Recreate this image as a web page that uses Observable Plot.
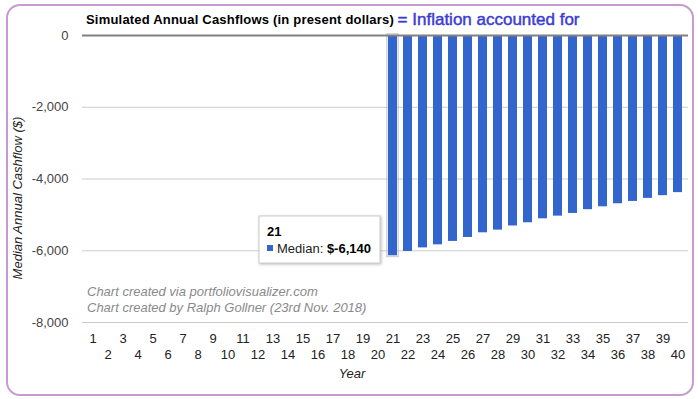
<!DOCTYPE html>
<html>
<head>
<meta charset="utf-8">
<script src="https://cdn.jsdelivr.net/npm/d3@7"></script>
<script src="https://cdn.jsdelivr.net/npm/@observablehq/plot@0.6"></script>
<style>
  html, body { margin: 0; padding: 0; background: #fff; }
  #wrap { position: relative; width: 698px; height: 399px; overflow: hidden; font-family: Arial, "Liberation Sans", sans-serif; }
  #wrap > svg { position: absolute; left: 0; top: 0; }
  .frame { position: absolute; left: 6px; top: 4px; width: 688px; height: 392px; box-sizing: border-box; border: 2px solid #c99ad2; border-radius: 14px; pointer-events: none; }
</style>
</head>
<body>
<div id="wrap"><div class="frame"></div></div>
<script>
// ---- data ----
const years = [1,2,3,4,5,6,7,8,9,10,11,12,13,14,15,16,17,18,19,20,
               21,22,23,24,25,26,27,28,29,30,31,32,33,34,35,36,37,38,39,40];
const medianCashflow = [0,0,0,0,0,0,0,0,0,0,0,0,0,0,0,0,0,0,0,0,
  -6140,-6020,-5920,-5835,-5740,-5630,-5500,-5425,-5310,-5220,
  -5110,-5035,-4960,-4855,-4775,-4690,-4625,-4540,-4465,-4380];
const yTicks = [0,-2000,-4000,-6000,-8000];
const titleText = "Simulated Annual Cashflows (in present dollars)";
const subtitleText = "= Inflation accounted for";
const yTitle = "Median Annual Cashflow ($)";
const xTitle = "Year";
const captionLines = ["Chart created via portfoliovisualizer.com", "Chart created by Ralph Gollner (23rd Nov. 2018)"];
const hoverYear = 21;

// ---- chart ----
const data = years.map((y, i) => ({year: y, value: medianCashflow[i]}));
const fmt = d => d.toLocaleString("en-US");
const font = "Arial, 'Liberation Sans', sans-serif";

const chart = Plot.plot({
  width: 698, height: 399,
  marginTop: 35, marginBottom: 77, marginLeft: 82, marginRight: 10,
  style: {fontFamily: font, fontSize: "13px", background: "transparent", color: "#444"},
  x: {type: "band", domain: years, padding: 0.37, axis: null},
  y: {domain: [-8000, 0], axis: null},
  marks: [
    Plot.gridY(yTicks.filter(v => v !== 0), {stroke: "#cccccc", strokeOpacity: 1}),
    Plot.axisY(yTicks, {tickSize: 0, tickPadding: 14, tickFormat: fmt, fill: "#444", label: null, fontSize: 13}),
    Plot.axisX(years.filter(y => y % 2 === 1), {tickSize: 0, tickPadding: 11, fill: "#222", label: null, fontSize: 13}),
    Plot.axisX(years.filter(y => y % 2 === 0), {tickSize: 0, tickPadding: 27, fill: "#222", label: null, fontSize: 13}),
    Plot.barY(data.filter(d => d.year === hoverYear), {x: "year", y: "value", fill: "none", stroke: "#aaa", strokeOpacity: 0.5, strokeWidth: 1.5, inset: -1.2}),
    Plot.barY(data.filter(d => d.value !== 0), {x: "year", y: "value", fill: "#3366cc"}),
    Plot.ruleY([0], {stroke: "#808080", strokeWidth: 2})
  ]
});
const wrap = document.getElementById("wrap");
wrap.insertBefore(chart, wrap.firstChild);

// ---- overlay texts (titles, caption, tooltip) ----
const ov = d3.select(wrap).append("svg")
  .attr("width", 698).attr("height", 399)
  .style("position", "absolute").style("left", 0).style("top", 0)
  .style("font-family", font);

const t = ov.append("text").attr("x", 86).attr("y", 23.5);
t.append("tspan").text(titleText)
  .attr("font-weight", "bold").attr("font-size", 13).attr("letter-spacing", 0.2).attr("fill", "#000");
t.append("tspan").text(" ").attr("font-size", 13);
t.append("tspan").text(subtitleText)
  .attr("font-size", 17).attr("fill", "#3c3cd2").attr("stroke", "#3c3cd2").attr("stroke-width", 0.45)
  .attr("y", 25);

ov.append("text").text(yTitle)
  .attr("transform", "translate(22,198) rotate(-90)")
  .attr("text-anchor", "middle").attr("font-style", "italic").attr("font-size", 13).attr("fill", "#222");

ov.append("text").text(xTitle)
  .attr("x", 352).attr("y", 378)
  .attr("text-anchor", "middle").attr("font-style", "italic").attr("font-size", 13).attr("fill", "#222");

captionLines.forEach((line, i) => {
  ov.append("text").text(line)
    .attr("x", 87).attr("y", 296 + i * 16)
    .attr("font-style", "italic").attr("font-size", 13).attr("fill", "#8a8a8a");
});

// tooltip for hovered bar
const hv = data.find(d => d.year === hoverYear);
const tip = ov.append("g");
tip.append("rect").attr("x", 259).attr("y", 216).attr("width", 121).attr("height", 47)
  .attr("fill", "#fff").attr("stroke", "#cccccc").attr("stroke-width", 1)
  .style("filter", "drop-shadow(1px 1px 1.5px rgba(0,0,0,0.25))");
tip.append("text").text(String(hv.year)).attr("x", 267).attr("y", 236)
  .attr("font-weight", "bold").attr("font-size", 13).attr("fill", "#000");
tip.append("rect").attr("x", 267).attr("y", 245).attr("width", 6).attr("height", 6).attr("fill", "#3366cc");
const tl = tip.append("text").attr("x", 277).attr("y", 253).attr("font-size", 13).attr("fill", "#222");
tl.append("tspan").text("Median: ");
tl.append("tspan").text("$" + fmt(hv.value)).attr("font-weight", "bold").attr("fill", "#000");
</script>
</body>
</html>
